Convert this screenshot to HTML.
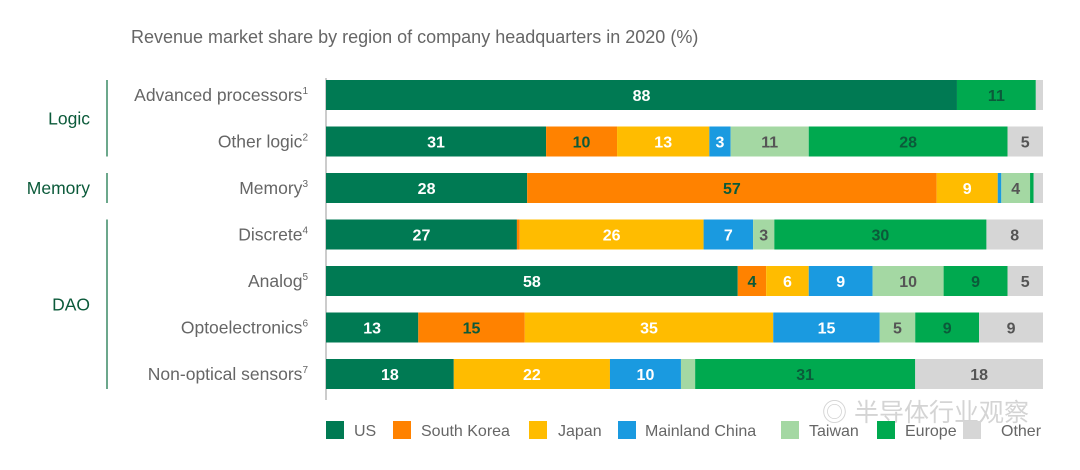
<!DOCTYPE html>
<html><head><meta charset="utf-8">
<style>
body{margin:0;background:#fff;width:1080px;height:465px;overflow:hidden;font-family:"Liberation Sans","Noto Sans CJK SC",sans-serif;}
svg text{font-family:"Liberation Sans","Noto Sans CJK SC",sans-serif;}
</style></head>
<body>
<svg id="chart" width="1080" height="465" viewBox="0 0 1080 465">
<text x="131" y="43" font-size="18" fill="#666">Revenue market share by region of company headquarters in 2020 (%)</text>
<text x="822" y="421" font-size="25" fill="#d4d4d4">◎ 半导体行业观察</text>
<g id="groups"></g>
<g id="bars"></g>
<g id="legend"></g>
</svg>
<script>
const categories=["Advanced processors","Other logic","Memory","Discrete","Analog","Optoelectronics","Non-optical sensors"];
const footnotes=["1","2","3","4","5","6","7"];
const seriesNames=["US","South Korea","Japan","Mainland China","Taiwan","Europe","Other"];
const US=[88,31,28,27,58,13,18];
const SouthKorea=[0,10,57,0.4,4,15,0];
const Japan=[0,13,8.5,26,6,35,22];
const MainlandChina=[0,3,0.5,7,9,15,10];
const Taiwan=[0,11,4,3,10,5,2];
const Europe=[11,28,0.5,30,9,9,31];
const Other=[1,5,1.3,8,5,9,18];
const groupNames=["Logic","Memory","DAO"];
const groupRows=[[0,1],[2,2],[3,6]];
const series=[US,SouthKorea,Japan,MainlandChina,Taiwan,Europe,Other];
const colors=["#007a53","#ff8200","#ffbc00","#1a9ae0","#a4d8a3","#00a94f","#d6d6d6"];
const labelColors=["#fff","#0b5a3a","#fff","#fff","#555","#0b5a3a","#555"];
const NS="http://www.w3.org/2000/svg";
const x0=326,x1=1043,rowTop=95,rowStep=46.5,barH=30;
const yPos=i=>rowTop+i*rowStep;
function mk(t,a,p){const e=document.createElementNS(NS,t);for(const k in a)e.setAttribute(k,a[k]);p.appendChild(e);return e;}
const bars=document.getElementById('bars');
const axis=mk('line',{x1:x0,x2:x0,y1:78,y2:400,stroke:'#999','stroke-width':1},bars);


categories.forEach((c,i)=>{
  const total=series.reduce((s,a)=>s+a[i],0);
  const sc=v=>v/total*(x1-x0);
  const y=yPos(i);
  const lab=mk('text',{x:308,y:y+6,'font-size':17.5,fill:'#666','text-anchor':'end'},bars);
  
  
  lab.textContent=c;
  const sup=mk('tspan',{'font-size':10,dy:-7},lab);sup.textContent=footnotes[i];
  let x=x0;
  series.forEach((s,j)=>{
    const w=sc(s[i]);
    if(w>0){
      const r=mk('rect',{x:x,y:y-barH/2,width:w,height:barH,fill:colors[j]},bars);
      
      
      if(s[i]>=3){
        const t=mk('text',{x:x+w/2,y:y+6,'font-size':16,'font-weight':'bold',fill:labelColors[j],'text-anchor':'middle'},bars);
        
        
        t.textContent=Math.round(s[i]);
      }
    }
    x+=w;
  });
});
const g=document.getElementById('groups');
groupNames.forEach((n,k)=>{
  const a=yPos(groupRows[k][0])-15,b=yPos(groupRows[k][1])+15;
  const l=mk('line',{x1:107,x2:107,y1:a,y2:b,stroke:'#3b8a66','stroke-width':1.5},g);
  
  
  const t=mk('text',{x:90,y:(a+b)/2+6,'font-size':17.5,fill:'#0b5a3a','text-anchor':'end'},g);
  
  
  t.textContent=n;
});
const lg=document.getElementById('legend');
const lx=[326,393,529,618,781,877,963];
const tx=[354,421,558,645,809,905,1001];
seriesNames.forEach((n,j)=>{
  const r=mk('rect',{x:lx[j],y:421,width:18,height:18,fill:colors[j]},lg);
  
  
  const t=mk('text',{x:tx[j],y:436,'font-size':16,fill:'#666'},lg);
  
  
  t.textContent=n;
});
</script>
</body></html>
